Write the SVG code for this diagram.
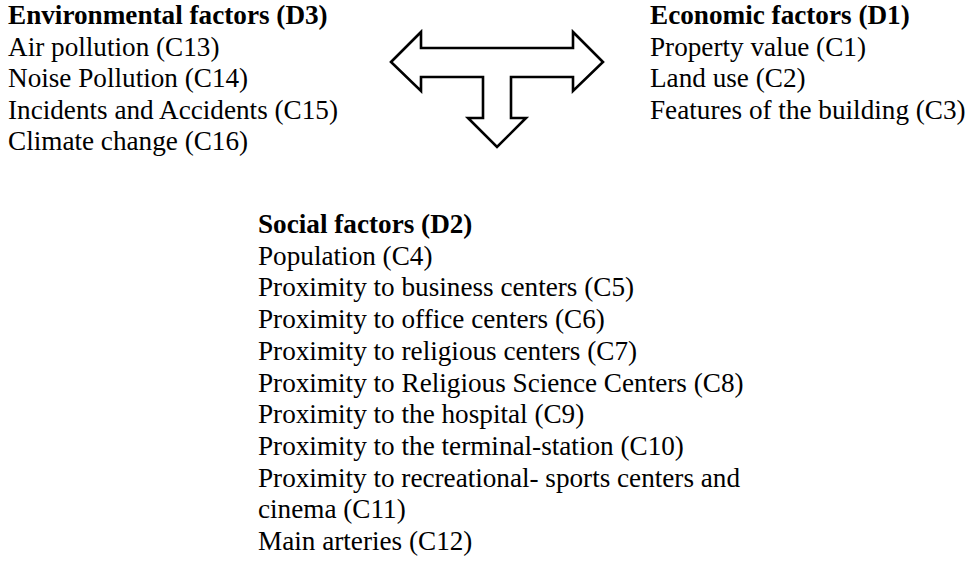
<svg xmlns="http://www.w3.org/2000/svg" width="970" height="584" viewBox="0 0 970 584">
<style>
text{font-family:"Liberation Serif","Times New Roman",serif;font-size:27.2px;fill:#000}
.b{font-weight:bold}
.arrow{fill:#fff;stroke:#000;stroke-width:2.6;stroke-linejoin:miter}
</style>
<rect width="970" height="584" fill="#fff"/>
<g id="connectors">
<path class="arrow" d="M391,62 L421,32 L421,48 L573,48 L573,32 L603,62 L573,91 L573,77 L511,77 L511,118 L526,118 L497,147 L468,118 L483,118 L483,77 L421,77 L421,91 Z"/>
</g>
<g id="environmental" font-family="Liberation Serif, Times New Roman, serif">
<text x="8" y="24" class="b">Environmental factors (D3)</text>
<text x="8" y="55.5">Air pollution (C13)</text>
<text x="8" y="87">Noise Pollution (C14)</text>
<text x="8" y="118.5">Incidents and Accidents (C15)</text>
<text x="8" y="150">Climate change (C16)</text>
</g>
<g id="economic" font-family="Liberation Serif, Times New Roman, serif">
<text x="650" y="24" class="b">Economic factors (D1)</text>
<text x="650" y="55.5">Property value (C1)</text>
<text x="650" y="87">Land use (C2)</text>
<text x="650" y="118.5">Features of the building (C3)</text>
</g>
<g id="social" font-family="Liberation Serif, Times New Roman, serif">
<text x="258" y="233" class="b">Social factors (D2)</text>
<text x="258" y="264.7">Population (C4)</text>
<text x="258" y="296.4">Proximity to business centers (C5)</text>
<text x="258" y="328">Proximity to office centers (C6)</text>
<text x="258" y="359.8">Proximity to religious centers (C7)</text>
<text x="258" y="391.5">Proximity to Religious Science Centers (C8)</text>
<text x="258" y="423">Proximity to the hospital (C9)</text>
<text x="258" y="455">Proximity to the terminal-station (C10)</text>
<text x="258" y="486.6" textLength="482" lengthAdjust="spacing">Proximity to recreational- sports centers and</text>
<text x="258" y="518.3">cinema (C11)</text>
<text x="258" y="550">Main arteries (C12)</text>
</g>
</svg>
